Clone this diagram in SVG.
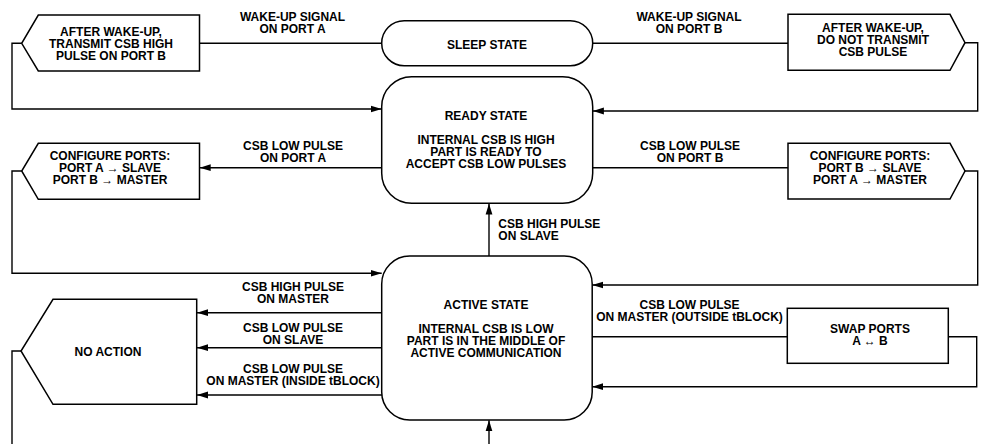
<svg xmlns="http://www.w3.org/2000/svg" width="987" height="444" viewBox="0 0 987 444">
<style>
.b{fill:#fff;stroke:#000;stroke-width:1.5}
.l{fill:none;stroke:#000;stroke-width:1.4}
.a{fill:none;stroke:#000;stroke-width:1.4;marker-end:url(#ah)}
text{font-family:"Liberation Sans",Arial,Helvetica,sans-serif;font-weight:bold;font-size:12px;fill:#000}
.c{text-anchor:middle}
</style>
<defs>
<marker id="ah" markerUnits="userSpaceOnUse" markerWidth="12" markerHeight="8" refX="11" refY="4" orient="auto">
<path d="M0,0.6 L11,4 L0,7.4 z" fill="#000"/>
</marker>
</defs>
<rect width="987" height="444" fill="#fff"/>
<g id="connectors">
<path class="l" d="M199.5,43.3 H382"/>
<path class="l" d="M592.7,43.3 H788"/>
<path class="a" d="M21.7,43.3 H12 V109 H381.7"/>
<path class="a" d="M965,42.7 H977.7 V111 H592.9"/>
<path class="a" d="M382,167.7 H199.7"/>
<path class="l" d="M592.7,167.7 H788"/>
<path class="a" d="M21.7,171 H12 V273.3 H381.7"/>
<path class="a" d="M965,171 H977.7 V285 H592.2"/>
<path class="a" d="M489,256 V203.5"/>
<path class="a" d="M489,444 V420.2"/>
<path class="a" d="M382,312.7 H197"/>
<path class="a" d="M382,347.7 H197"/>
<path class="a" d="M382,395 H197"/>
<path class="l" d="M21,351 H12 V444"/>
<path class="l" d="M592,336.7 H787.3"/>
<path class="a" d="M948.3,336.7 H976.7 V386.7 H592.2"/>
<text class="c" x="292.5" y="21">WAKE-UP SIGNAL</text>
<text class="c" x="292.5" y="33">ON PORT A</text>
<text class="c" x="689" y="21">WAKE-UP SIGNAL</text>
<text class="c" x="689" y="33">ON PORT B</text>
<text class="c" x="293" y="150">CSB LOW PULSE</text>
<text class="c" x="293" y="162">ON PORT A</text>
<text class="c" x="690" y="150">CSB LOW PULSE</text>
<text class="c" x="690" y="162">ON PORT B</text>
<text x="498.3" y="227.5">CSB HIGH PULSE</text>
<text x="498.3" y="239.5">ON SLAVE</text>
<text class="c" x="293" y="291">CSB HIGH PULSE</text>
<text class="c" x="293" y="303">ON MASTER</text>
<text class="c" x="293" y="331.5">CSB LOW PULSE</text>
<text class="c" x="293" y="343.5">ON SLAVE</text>
<text class="c" x="293" y="373.3">CSB LOW PULSE</text>
<text class="c" x="293" y="385.3">ON MASTER (INSIDE tBLOCK)</text>
<text class="c" x="689.5" y="309.3">CSB LOW PULSE</text>
<text class="c" x="689.5" y="321.3">ON MASTER (OUTSIDE tBLOCK)</text>
</g>
<g id="sleep">
<rect class="b" x="381.7" y="20.7" width="211" height="45" rx="22.5"/>
<text class="c" x="487" y="48.5">SLEEP STATE</text>
</g>
<g id="ready">
<rect class="b" x="381.7" y="76.7" width="211" height="126.6" rx="30"/>
<text class="c" x="486" y="120">READY STATE</text>
<text class="c" x="486" y="144">INTERNAL CSB IS HIGH</text>
<text class="c" x="486" y="156">PART IS READY TO</text>
<text class="c" x="486" y="168">ACCEPT CSB LOW PULSES</text>
</g>
<g id="active">
<rect class="b" x="381.7" y="256" width="210.5" height="164" rx="28"/>
<text class="c" x="486" y="309">ACTIVE STATE</text>
<text class="c" x="486" y="333">INTERNAL CSB IS LOW</text>
<text class="c" x="486" y="345">PART IS IN THE MIDDLE OF</text>
<text class="c" x="486" y="357">ACTIVE COMMUNICATION</text>
</g>
<g id="wake-a">
<path class="b" d="M38.3,15 H199.5 V71 H38.3 L21.7,43.3 Z"/>
<text class="c" x="111" y="35.5">AFTER WAKE-UP,</text>
<text class="c" x="111" y="47.5">TRANSMIT CSB HIGH</text>
<text class="c" x="111" y="59.5">PULSE ON PORT B</text>
</g>
<g id="wake-b">
<path class="b" d="M788,14.3 H950 L965,42.7 L950,70.3 H788 Z"/>
<text class="c" x="873" y="31.7">AFTER WAKE-UP,</text>
<text class="c" x="873" y="43.7">DO NOT TRANSMIT</text>
<text class="c" x="873" y="55.7">CSB PULSE</text>
</g>
<g id="config-a">
<path class="b" d="M38.3,143.3 H199.5 V199.3 H38.3 L21.7,171 Z"/>
<text class="c" x="110" y="159.5">CONFIGURE PORTS:</text>
<text class="c" x="110" y="171.5">PORT A → SLAVE</text>
<text class="c" x="110" y="183.5">PORT B → MASTER</text>
</g>
<g id="config-b">
<path class="b" d="M788,143.3 H950 L965,171 L950,199 H788 Z"/>
<text class="c" x="870" y="159.5">CONFIGURE PORTS:</text>
<text class="c" x="870" y="171.5">PORT B → SLAVE</text>
<text class="c" x="870" y="183.5">PORT A → MASTER</text>
</g>
<g id="no-action">
<path class="b" d="M53,299.3 H196.7 V404.3 H53 L21,351 Z"/>
<text class="c" x="108" y="356">NO ACTION</text>
</g>
<g id="swap">
<rect class="b" x="787.3" y="308.3" width="161" height="55"/>
<text class="c" x="870" y="332.5">SWAP PORTS</text>
<text class="c" x="870" y="344.5">A ↔ B</text>
</g>
</svg>
